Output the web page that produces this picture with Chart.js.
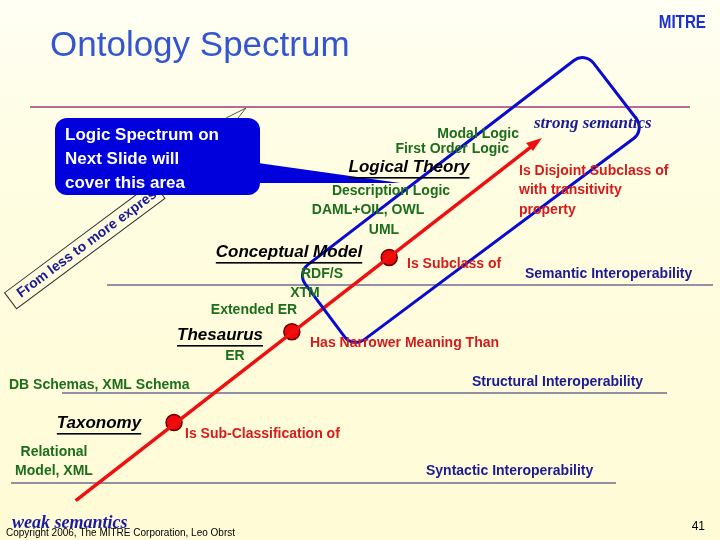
<!DOCTYPE html><html><head><script src="https://cdn.jsdelivr.net/npm/chart.js@4"></script>
<style>html,body{margin:0;padding:0;}#w{width:720px;height:540px;background:linear-gradient(#fffff4,#fffde2 30%,#fffbd6);}</style></head><body><div id="w"><canvas id="c" width="720" height="540"></canvas></div>
<script>
const levels=["Taxonomy","Thesaurus","Conceptual Model"];
const levelX=[169,290,390];
const levelY=[428,334,257];
const relations=["Is Sub-Classification of","Has Narrower Meaning Than","Is Subclass of","Is Disjoint Subclass of\nwith transitivity\nproperty"];
const lineEndsX=[68,540];
const lineEndsY=[509,139];
const G='#1c6e1c',R='#d41c1c',N='#1a1a96';
const T=(ctx,s,x,y,f,c,a,u,lh)=>{ctx.font=f;ctx.fillStyle=c||'#000';ctx.textAlign=a||'left';ctx.textBaseline='middle';s.split('\n').forEach((l,i)=>{const yy=y+i*(lh||20);ctx.fillText(l,x,yy);if(u){const w=ctx.measureText(l).width;let x0=a==='center'?x-w/2:a==='right'?x-w:x;ctx.fillRect(x0,yy+10,w,1.6);}});};
const deco={id:'deco',beforeDatasetsDraw(ch){const ctx=ch.ctx;ctx.save();
 ctx.strokeStyle='#a0387a';ctx.lineWidth=1.5;ctx.beginPath();ctx.moveTo(30,107);ctx.lineTo(690,107);ctx.stroke();
 ctx.strokeStyle='#26266e';ctx.lineWidth=1.2;[[107,713,285],[62,667,393],[11,616,483]].forEach(l=>{ctx.beginPath();ctx.moveTo(l[0],l[2]);ctx.lineTo(l[1],l[2]);ctx.stroke();});
 ctx.save();ctx.translate(17,296);ctx.rotate(-0.64);ctx.strokeStyle='#333';ctx.lineWidth=1;ctx.strokeRect(-8,-10,185,20);T(ctx,'From less to more expressive',2,0,'bold 14px "Liberation Sans"',N);ctx.restore();
 ctx.fillStyle='#0000dd';ctx.beginPath();ctx.roundRect(55,118,205,77,12);ctx.fill();
 ctx.beginPath();ctx.moveTo(258,163);ctx.lineTo(400,183);ctx.lineTo(258,183);ctx.closePath();ctx.fill();
 ctx.strokeStyle='#555';ctx.lineWidth=1;ctx.beginPath();ctx.moveTo(226,118);ctx.lineTo(246,108);ctx.lineTo(238,118);ctx.stroke();
 T(ctx,'Logic Spectrum on\nNext Slide will\ncover this area',65,135,'bold 17px "Liberation Sans"','#fff','left',false,24);
 ctx.restore();},
 afterDatasetsDraw(ch){const ctx=ch.ctx;ctx.save();
 T(ctx,'Ontology Spectrum',50,46,'35px "Liberation Sans"','#3355d0');
 ctx.save();ctx.translate(706,23);ctx.scale(0.8,1);T(ctx,'MITRE',0,0,'bold 19px "Liberation Sans"','#1a2fd8','right');ctx.restore();
 ctx.strokeStyle='#0a0ad0';ctx.lineWidth=3;ctx.lineJoin='round';const p=[[297,273],[585,52],[645,130],[353,348]];
 ctx.beginPath();ctx.moveTo((p[0][0]+p[1][0])/2,(p[0][1]+p[1][1])/2);for(let i=1;i<=4;i++){const a=p[i%4],b=p[(i+1)%4];ctx.arcTo(a[0],a[1],(a[0]+b[0])/2,(a[1]+b[1])/2,14);}ctx.closePath();ctx.stroke();
 const f='bold 14px "Liberation Sans"';
 T(ctx,'Modal Logic',519,134,f,G,'right');T(ctx,'First Order Logic',509,149,f,G,'right');
 T(ctx,'Logical Theory',409,167,'bold italic 17px "Liberation Sans"','#000','center',true);
 T(ctx,'Description Logic',391,191,f,G,'center');T(ctx,'DAML+OIL, OWL',368,210,f,G,'center');T(ctx,'UML',384,230,f,G,'center');
 T(ctx,'Conceptual Model',289,252,'bold italic 17px "Liberation Sans"','#000','center',true);
 T(ctx,'RDF/S',322,274,f,G,'center');T(ctx,'XTM',305,293,f,G,'center');T(ctx,'Extended ER',254,310,f,G,'center');
 T(ctx,'Thesaurus',220,335,'bold italic 17px "Liberation Sans"','#000','center',true);
 T(ctx,'ER',235,356,f,G,'center');
 T(ctx,'DB Schemas, XML Schema',9,385,f,G);
 T(ctx,'Taxonomy',99,423,'bold italic 17px "Liberation Sans"','#000','center',true);
 T(ctx,'Relational\nModel, XML',54,452,f,G,'center',false,19);
 T(ctx,relations[0],185,434,f,R);T(ctx,relations[1],310,343,f,R);T(ctx,relations[2],407,264,f,R);T(ctx,relations[3],519,171,f,R,'left',false,19.5);
 T(ctx,'Semantic Interoperability',525,274,'bold 14px "Liberation Sans"',N);
 T(ctx,'Structural Interoperability',472,382,'bold 14px "Liberation Sans"',N);
 T(ctx,'Syntactic Interoperability',426,471,'bold 14px "Liberation Sans"',N);
 T(ctx,'strong semantics',534,124,'bold italic 17px "Liberation Serif"',N);
 T(ctx,'weak semantics',12,523,'bold italic 18px "Liberation Serif"','#1a1aa0');
 T(ctx,'Copyright 2006, The MITRE Corporation, Leo Obrst',6,533,'10px "Liberation Sans"','#000');
 T(ctx,'41',705,527,'12px "Liberation Sans"','#000','right');
 ctx.fillStyle='#ee1010';ctx.beginPath();ctx.moveTo(542,138);ctx.lineTo(526,143);ctx.lineTo(533,151);ctx.closePath();ctx.fill();
 ctx.restore();}};
new Chart(document.getElementById('c'),{type:'scatter',data:{datasets:[
 {data:lineEndsX.map((x,i)=>({x,y:lineEndsY[i]})),showLine:true,borderColor:'#ee1010',borderWidth:3.5,pointRadius:0},
 {data:levelX.map((x,i)=>({x,y:levelY[i]})),pointRadius:8,pointBackgroundColor:'#f00808',pointBorderColor:'#600',pointBorderWidth:1.5,showLine:false}]},
 options:{responsive:false,animation:false,layout:{padding:0},plugins:{legend:{display:false},tooltip:{enabled:false}},
 scales:{x:{type:'linear',min:0,max:720,display:false},y:{min:0,max:540,reverse:true,display:false}}},plugins:[deco]});
</script></body></html>
